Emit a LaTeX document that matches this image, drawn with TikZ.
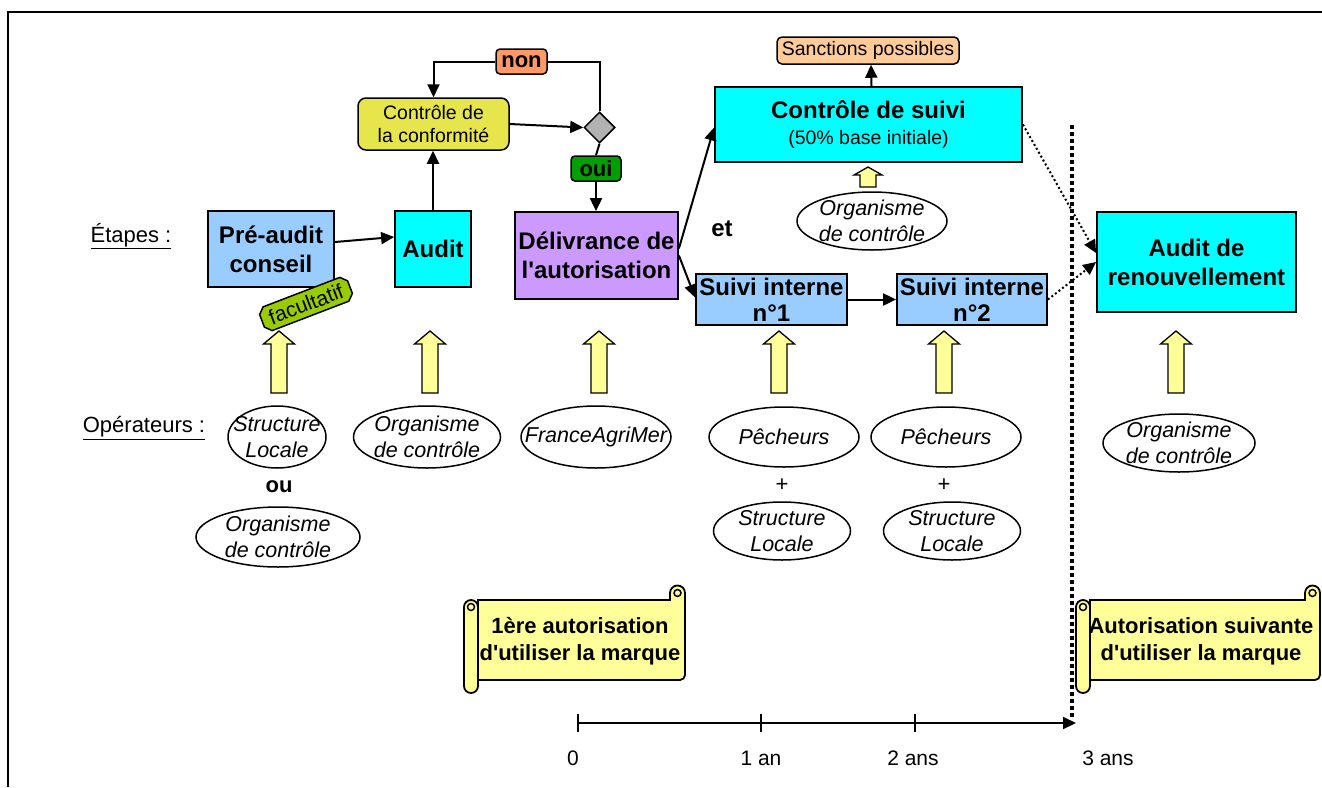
\documentclass[tikz,border=0pt]{standalone}
\usepackage{fontspec}
\setmainfont{Liberation Sans}
\usetikzlibrary{shapes.geometric,shapes.misc,arrows.meta}
\newcommand\apos{\XeTeXglyph\XeTeXcharglyph"0027\relax}
\definecolor{lblue}{HTML}{99CCFF}
\definecolor{cyanb}{HTML}{00FFFF}
\definecolor{purp}{HTML}{CC99FF}
\definecolor{pyell}{HTML}{FFFF99}
\definecolor{oliveb}{HTML}{E6E64C}
\definecolor{orng}{HTML}{FF9966}
\definecolor{grn}{HTML}{00A000}
\definecolor{peach}{HTML}{FFCC99}
\definecolor{dgray}{HTML}{B2B2B2}
\definecolor{lgreen}{HTML}{99CC00}
\tikzset{
  stepbox/.style={draw, line width=1.8pt, inner sep=0pt, align=center,
    font=\fontsize{24}{29}\selectfont\bfseries},
  lab/.style={draw, line width=1.5pt, rounded corners=4pt, inner sep=0pt,
    font=\fontsize{22}{24}\selectfont\bfseries},
  opell/.style={draw, ellipse, line width=1.5pt, inner sep=0pt},
  optext/.style={font=\fontsize{21.5}{26}\selectfont\itshape, align=center},
  conn/.style={line width=2pt, -{Triangle[length=13pt,width=12pt]}},
  plain/.style={line width=2pt},
  dotconn/.style={line width=2pt, dash pattern=on 2pt off 2.5pt, -{Triangle[length=13pt,width=12pt]}},
  tl/.style={font=\fontsize{21}{24}\selectfont},
  blockup/.pic={\draw[line width=1.3pt, fill=pyell] (0,0) -- (15.5,-13) -- (8,-13) -- (8,-62) -- (-8,-62) -- (-8,-13) -- (-15.5,-13) -- cycle;},
  scrollpic/.pic={
    \filldraw[fill=pyell, line width=1.8pt] (14,0) -- ({\scrollw-15},0) -- ({\scrollw-15},7)
      arc[start angle=180,end angle=0,radius=7.5] -- (\scrollw,-75)
      arc[start angle=0,end angle=-90,radius=5] -- (14,-80) -- cycle;
    \draw[fill=pyell, line width=1.5pt] ({\scrollw-7.5},7) circle[radius=3.5];
    \filldraw[fill=pyell, line width=1.8pt] (0,-7) arc[start angle=180,end angle=0,radius=7]
      -- (14,-86) arc[start angle=0,end angle=-180,radius=7] -- cycle;
    \draw[line width=1.5pt] (7,-7) circle[radius=3.5];
  }
}
\begin{document}
\begin{tikzpicture}[x=1pt,y=1pt]
\useasboundingbox (0,0) rectangle (1322,-787);
% frame
\draw[line width=2pt] (8,-787) -- (8,-12) -- (1322,-12);

% row labels
\node[font=\fontsize{22}{24}\selectfont] (etapes) at (131,-236) {\underline{Étapes :}};
\node[font=\fontsize{22}{24}\selectfont] (operat) at (144,-428) {\underline{Opérateurs :}};

% step boxes
\node[stepbox, fill=lblue, minimum width=126, minimum height=76] (pre) at (271,-249) {Pré-audit\\conseil};
\node[stepbox, fill=cyanb, minimum width=76, minimum height=76] (audit) at (433,-249) {Audit};
\node[stepbox, fill=purp, minimum width=163, minimum height=87] (deliv) at (596.5,-255.5) {Délivrance de\\l\apos autorisation};
\node[stepbox, fill=cyanb, minimum width=307, minimum height=75] (cs) at (868.5,-124.5)
  {Contrôle de suivi\\[-3pt]{\fontsize{19.5}{22}\selectfont\mdseries (50\% base initiale)}};
\node[stepbox, fill=lblue, minimum width=151, minimum height=51] (n1) at (771.5,-299.5) {Suivi interne\\[-3pt]n°1};
\node[stepbox, fill=lblue, minimum width=150, minimum height=51] (n2) at (972,-299.5) {Suivi interne\\[-3pt]n°2};
\node[stepbox, fill=cyanb, minimum width=199, minimum height=100] (ren) at (1196.5,-262) {Audit de\\renouvellement};

% control loop
\node[draw, line width=1.5pt, rounded corners=8pt, fill=oliveb, minimum width=151, minimum height=52,
  inner sep=0pt, align=center, font=\fontsize{19.5}{23}\selectfont] (conf) at (433.5,-124) {Contrôle de\\la conformité};
\node[diamond, draw, fill=dgray, line width=1.5pt, minimum width=31, minimum height=31, inner sep=0pt] (dia) at (599.5,-127.5) {};
\node[lab, fill=orng, minimum width=51, minimum height=25] (non) at (521.5,-61.5) {non};
\node[lab, fill=grn, minimum width=50, minimum height=25] (oui) at (596,-168.5) {oui};
\node[draw, line width=1.5pt, rounded corners=5pt, fill=peach, minimum width=182, minimum height=27,
  inner sep=0pt, font=\fontsize{19.5}{22}\selectfont] (sanc) at (868,-50.5) {Sanctions possibles};
\node[chamfered rectangle, chamfered rectangle xsep=3pt, chamfered rectangle ysep=3pt, draw, line width=1.5pt,
  fill=lgreen, rotate=21, inner xsep=5pt, inner ysep=2pt, font=\fontsize{21}{23}\selectfont] (fac) at (306,-304) {facultatif};

\draw[plain] (dia.north) -- (dia.north |- non.east) -- (non.east);
\draw[conn] (non.west) -| (conf.north);
\draw[plain] (dia.south) -- (oui.north);
\draw[conn] (oui.south) -- (oui.south |- deliv.north);
\draw[conn] (conf.east) -- (dia.west);
\draw[conn] (audit.north) -- (audit.north |- conf.south);
\draw[conn] ([yshift=7]pre.east) -- ([yshift=12]audit.west);
\draw[conn] ([yshift=7]deliv.east) -- ([yshift=-3]cs.west);
\draw[conn] (deliv.east) -- ([yshift=2]n1.west);
\draw[conn] (n1) -- (n2);
\draw[conn] ([xshift=3]cs.north) -- ([xshift=3]sanc.south);
\draw[dotconn] (cs.east) -- ([yshift=9]ren.west);
\draw[dotconn] (n2.east) -- (ren.west);

\node[font=\fontsize{24}{24}\selectfont\bfseries] (et) at (722,-229) {et};

% small block arrow and organisme
\draw[line width=1.3pt, fill=pyell] (868,-167) -- (882,-175) -- (876,-175) -- (876,-187) -- (860,-187) -- (860,-175) -- (854,-175) -- cycle;
\node[opell, minimum width=150, minimum height=58] (eo) at (872,-221) {};
\node[optext] at (eo) {Organisme\\de contrôle};

% separator
\draw[line width=4pt, dash pattern=on 4pt off 3pt] (1072,-125) -- (1072,-717);

% block arrows
\foreach \cx in {279,430,599,779,944,1176} { \pic at (\cx,-331) {blockup}; }

% operators
\node[opell, minimum width=98, minimum height=62] (e1) at (277,-437) {};
\node[optext] at (e1) {Structure\\Locale};
\node[opell, minimum width=147, minimum height=62] (e2) at (427,-437) {};
\node[optext] at (e2) {Organisme\\de contrôle};
\node[opell, minimum width=150, minimum height=62] (e3) at (596,-437) {};
\node[optext] at (e3) {FranceAgriMer};
\node[opell, minimum width=150, minimum height=60] (e4) at (784,-437) {};
\node[optext] at (e4) {Pêcheurs};
\node[opell, minimum width=150, minimum height=60] (e5) at (946,-437) {};
\node[optext] at (e5) {Pêcheurs};
\node[opell, minimum width=152, minimum height=58] (e6) at (1179,-443) {};
\node[optext] at (e6) {Organisme\\de contrôle};

\node[font=\fontsize{22}{24}\selectfont\bfseries] (ou) at (279,-487) {ou};
\node[opell, minimum width=164, minimum height=60] (e7) at (278,-537) {};
\node[optext] at (e7) {Organisme\\de contrôle};
\node[font=\fontsize{22}{24}\selectfont] (p1) at (782,-485) {+};
\node[font=\fontsize{22}{24}\selectfont] (p2) at (944,-485) {+};
\node[opell, minimum width=137, minimum height=58] (e8) at (782,-531) {};
\node[optext] at (e8) {Structure\\Locale};
\node[opell, minimum width=137, minimum height=58] (e9) at (952,-531) {};
\node[optext] at (e9) {Structure\\Locale};

% scrolls
\def\scrollw{221}
\pic at (464,-600) {scrollpic};
\node[font=\fontsize{22}{27}\selectfont\bfseries, align=center] (s1) at (580,-641) {1ère autorisation\\d\apos utiliser la marque};
\def\scrollw{244}
\pic at (1076,-600) {scrollpic};
\node[font=\fontsize{22}{27}\selectfont\bfseries, align=center] (s2) at (1201,-641) {Autorisation suivante\\d\apos utiliser la marque};

% timeline
\coordinate (t0) at (578,-723);
\coordinate (t1) at (761,-723);
\coordinate (t2) at (915,-723);
\coordinate (t3) at (1076,-723);
\draw[line width=2pt, -{Triangle[length=13pt,width=12pt]}] (t0) -- (t3);
\foreach \t in {t0,t1,t2} { \draw[line width=1.5pt] ([yshift=9]\t) -- ([yshift=-9]\t); }
\node[tl] (l0) at (573,-758) {0};
\node[tl] (l1) at (761,-758) {1 an};
\node[tl] (l2) at (913,-758) {2 ans};
\node[tl] (l3) at (1108,-758) {3 ans};
\end{tikzpicture}
\end{document}
